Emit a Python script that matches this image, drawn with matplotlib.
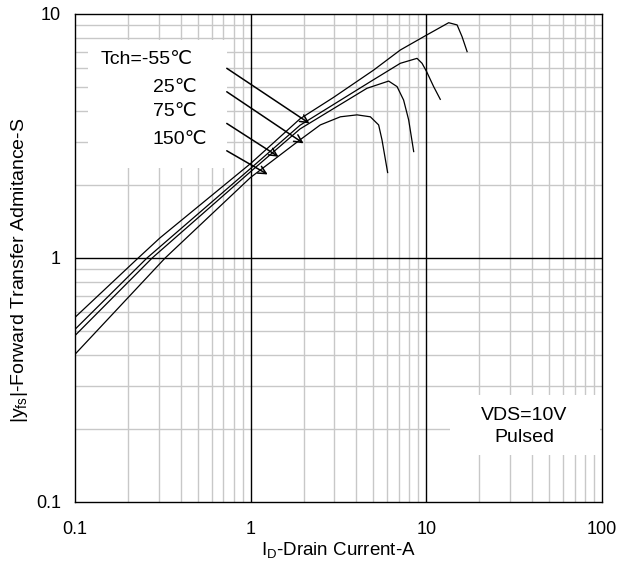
import numpy as np
import matplotlib
matplotlib.use("Agg")
import matplotlib.pyplot as plt
from matplotlib.patches import Rectangle

plt.rcParams['font.family'] = ['Liberation Sans', 'DejaVu Sans']
plt.rcParams['mathtext.fontset'] = 'custom'
plt.rcParams['mathtext.rm'] = 'Liberation Sans'
plt.rcParams['mathtext.it'] = 'Liberation Sans'

# curves: drain current (A) vs |yfs| (S)
id_m55 = [0.1, 0.229, 0.305, 1.0, 1.91, 2.96, 5.01, 7.11, 10.04, 13.4, 14.96, 15.97, 17.06]
yfs_m55 = [0.571, 1.0, 1.21, 2.44, 3.72, 4.55, 5.89, 7.12, 8.2, 9.21, 9.02, 8.07, 7.01]

id_25 = [0.1, 0.257, 1.0, 1.91, 4.80, 7.11, 8.85, 9.45, 10.04, 11.0, 12.0]
yfs_25 = [0.510, 1.0, 2.33, 3.50, 5.28, 6.28, 6.58, 6.28, 5.80, 5.04, 4.47]

id_75 = [0.1, 0.275, 1.0, 1.91, 4.59, 6.10, 6.81, 7.42, 7.93, 8.47]
yfs_75 = [0.481, 1.0, 2.26, 3.38, 4.96, 5.31, 5.04, 4.44, 3.68, 2.73]

id_150 = [0.1, 0.326, 1.0, 1.91, 2.49, 3.24, 4.03, 4.80, 5.35, 5.59, 6.02]
yfs_150 = [0.403, 1.0, 2.14, 3.05, 3.51, 3.79, 3.86, 3.79, 3.51, 3.05, 2.24]

# arrows: (text end) -> (curve)
arrow_from = [(0.731, 5.99), (0.731, 4.80), (0.731, 3.56), (0.731, 2.75)]
arrow_to = [(2.16, 3.56), (2.0, 2.95), (1.44, 2.60), (1.25, 2.20)]

temp_labels = ['Tch=-55\u2103', '25\u2103', '75\u2103', '150\u2103']
x_decades = [0.1, 1, 10, 100]
y_decades = [0.1, 1, 10]

fig = plt.figure(figsize=(6.35, 5.62), dpi=100)
ax = fig.add_axes([0.1181, 0.1068, 0.830, 0.8683])
ax.set_xscale('log')
ax.set_yscale('log')
ax.set_xlim(0.1, 100)
ax.set_ylim(0.1, 10)

ax.grid(True, which='minor', color='#c8c8c8', linewidth=1.0)
ax.set_axisbelow(True)
for v in x_decades[1:-1]:
    ax.axvline(v, color='black', linewidth=1.0, zorder=1.5)
for v in y_decades[1:-1]:
    ax.axhline(v, color='black', linewidth=1.0, zorder=1.5)

ax.set_xticks(x_decades)
ax.set_xticklabels(['0.1', '1', '10', '100'])
ax.set_yticks(y_decades)
ax.set_yticklabels(['0.1', '1', '10'])
ax.tick_params(which='both', length=0, labelsize=13)
ax.tick_params(axis='x', pad=14)
ax.tick_params(axis='y', pad=10)
for s in ax.spines.values():
    s.set_linewidth(1.0)
    s.set_zorder(6)

# white boxes hiding grid behind the text
ax.add_patch(Rectangle((88 / 635, 1 - 168 / 562), (227 - 88) / 635, (168 - 40) / 562,
                       transform=fig.transFigure, facecolor='white', edgecolor='none', zorder=1))
ax.add_patch(Rectangle((450 / 635, 1 - 455 / 562), (600 - 450) / 635, (455 - 395) / 562,
                       transform=fig.transFigure, facecolor='white', edgecolor='none', zorder=1))

for xs, ys in [(id_m55, yfs_m55), (id_25, yfs_25), (id_75, yfs_75), (id_150, yfs_150)]:
    ax.plot(xs, ys, color='black', linewidth=0.9, zorder=3)

for (x0, y0), (x1, y1) in zip(arrow_from, arrow_to):
    ax.annotate('', xy=(x1, y1), xytext=(x0, y0),
                arrowprops=dict(arrowstyle='->', color='black', lw=1.1,
                                mutation_scale=14, shrinkA=0, shrinkB=0), zorder=4)

fs = 14
label_pos = [(101, 60), (153, 87), (153, 112), (153, 139)]
for lab, (px, py) in zip(temp_labels, label_pos):
    ax.text(px / 635, 1 - py / 562, lab, transform=fig.transFigure, fontsize=fs, va='center', zorder=5)

ax.text(524 / 635, 1 - 415 / 562, 'VDS=10V', transform=fig.transFigure, fontsize=fs, ha='center', va='center', zorder=5)
ax.text(524 / 635, 1 - 438 / 562, 'Pulsed', transform=fig.transFigure, fontsize=fs, ha='center', va='center', zorder=5)

ax.set_xlabel(r'I$_{\mathrm{D}}$-Drain Current-A', fontsize=13.5, labelpad=1)
ax.set_ylabel(r'|y$_{\mathrm{fs}}$|-Forward Transfer Admitance-S', fontsize=14)
ax.yaxis.set_label_coords(-0.085, 0.475)

fig.savefig('out.png', dpi=100)
